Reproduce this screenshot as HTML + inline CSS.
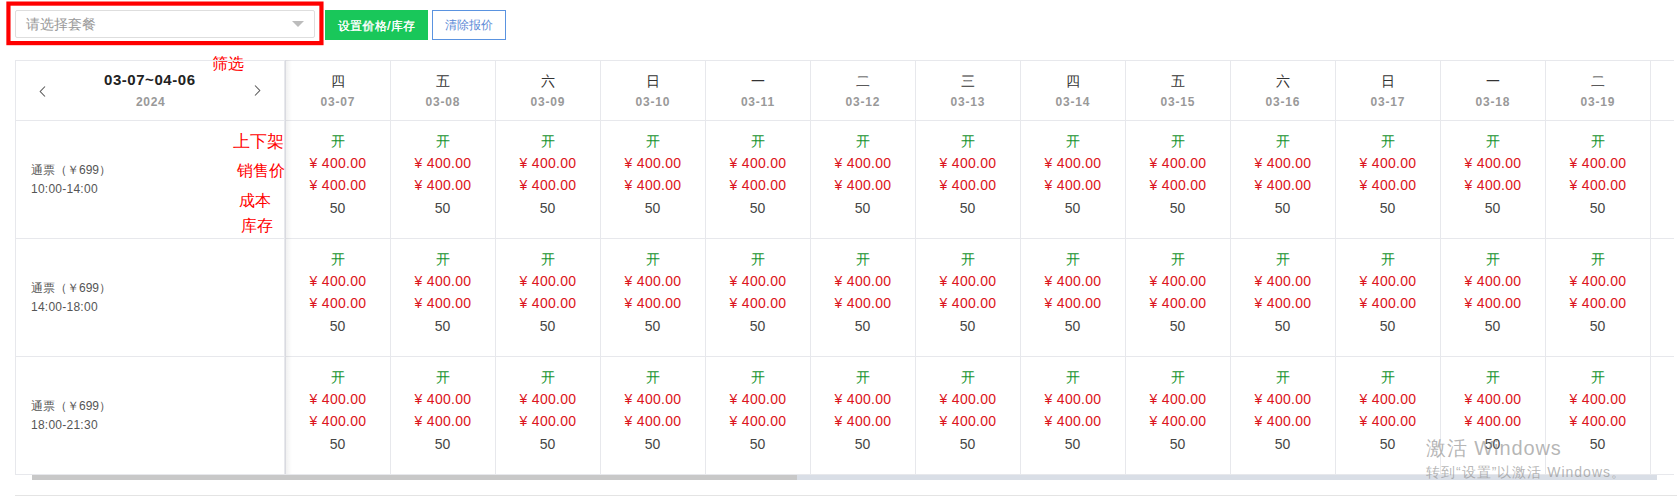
<!DOCTYPE html><html><head><meta charset="utf-8"><style>
*{margin:0;padding:0;box-sizing:border-box}
html,body{width:1677px;height:497px;overflow:hidden;background:#fff;font-family:"Liberation Sans",sans-serif;position:relative}
.a{position:absolute;white-space:nowrap}
.redbox{left:7px;top:1px;width:317px;height:45px;border:4px solid #ff0000}
.sel{left:15px;top:10px;width:300px;height:28px;border:1px solid #dedede;border-radius:2px}
.ph{left:26px;top:15px;font-size:14px;line-height:18px;color:#999}
.tri{left:292px;top:21px;width:0;height:0;border-left:6px solid transparent;border-right:6px solid transparent;border-top:6px solid #bcbcbc}
.btn1{left:325px;top:10px;width:103px;height:30px;background:#19c75a;color:#fff;font-size:12px;line-height:30px;padding-top:1px;text-align:center;font-weight:500;letter-spacing:0.3px;text-shadow:0.3px 0 0 #fff}
.btn2{left:432px;top:10px;width:74px;height:30px;border:1px solid #5a93e0;color:#5b8ad6;font-size:12px;line-height:29px;text-align:center}
.ann{color:#ff0000;font-size:16px;line-height:18px}
.hl{height:1px;background:#e7e8ec}
.vl{width:1px;background:#e7e8ec}
.day{font-size:14px;line-height:16px;color:#333;text-align:center;width:105px}
.dt{font-size:12px;line-height:15px;color:#999;font-weight:bold;text-align:center;width:105px;letter-spacing:0.8px;padding-left:0.8px}
.c{text-align:center;width:105px;font-size:14px;line-height:16px}
.on{color:#15932e}
.pr{color:#dc1420;letter-spacing:0.3px;padding-left:1px}
.st{color:#464646}
.nm{font-size:12px;line-height:14px;color:#555}
.wm1{left:1426px;top:436px;font-size:20px;line-height:24px;letter-spacing:0.9px;color:rgba(150,150,150,0.7)}
.wm2{left:1426px;top:463px;font-size:14px;line-height:18px;letter-spacing:1px;color:rgba(150,150,150,0.7)}
</style></head><body><svg class="a" style="left:0;top:0" width="340" height="50"><rect x="8.45" y="3.6" width="313" height="39.5" fill="none" stroke="#ff0000" stroke-width="4.2"/></svg>
<div class="a sel"></div>
<div class="a ph">请选择套餐</div>
<div class="a tri"></div>
<div class="a btn1">设置价格/库存</div>
<div class="a btn2">清除报价</div>
<div class="a ann" style="left:212px;top:55px">筛选</div>
<div class="a hl" style="left:15px;top:60px;width:1659px"></div>
<div class="a hl" style="left:15px;top:120px;width:1659px"></div>
<div class="a hl" style="left:15px;top:238px;width:1659px"></div>
<div class="a hl" style="left:15px;top:356px;width:1659px"></div>
<div class="a hl" style="left:15px;top:474px;width:1659px"></div>
<div class="a vl" style="left:15px;top:60px;height:415px"></div>
<div class="a vl" style="left:390px;top:60px;height:414px"></div>
<div class="a vl" style="left:495px;top:60px;height:414px"></div>
<div class="a vl" style="left:600px;top:60px;height:414px"></div>
<div class="a vl" style="left:705px;top:60px;height:414px"></div>
<div class="a vl" style="left:810px;top:60px;height:414px"></div>
<div class="a vl" style="left:915px;top:60px;height:414px"></div>
<div class="a vl" style="left:1020px;top:60px;height:414px"></div>
<div class="a vl" style="left:1125px;top:60px;height:414px"></div>
<div class="a vl" style="left:1230px;top:60px;height:414px"></div>
<div class="a vl" style="left:1335px;top:60px;height:414px"></div>
<div class="a vl" style="left:1440px;top:60px;height:414px"></div>
<div class="a vl" style="left:1545px;top:60px;height:414px"></div>
<div class="a vl" style="left:1650px;top:60px;height:414px"></div>
<div class="a" style="left:104px;top:71px;font-size:15px;line-height:18px;font-weight:bold;color:#222;letter-spacing:0.55px">03-07~04-06</div>
<div class="a" style="left:136px;top:95px;font-size:12px;line-height:15px;font-weight:bold;color:#999;letter-spacing:0.7px">2024</div>
<svg class="a" style="left:38px;top:85px" width="9" height="13" viewBox="0 0 9 13"><path d="M7 1.5 L2.2 6.5 L7 11.5" fill="none" stroke="#555" stroke-width="1.05" stroke-linejoin="miter"/></svg>
<svg class="a" style="left:253px;top:84px" width="9" height="13" viewBox="0 0 9 13"><path d="M2 1.5 L6.8 6.5 L2 11.5" fill="none" stroke="#555" stroke-width="1.05" stroke-linejoin="miter"/></svg>
<div class="a day" style="left:285px;top:73px">四</div>
<div class="a dt" style="left:285px;top:95px">03-07</div>
<div class="a day" style="left:390px;top:73px">五</div>
<div class="a dt" style="left:390px;top:95px">03-08</div>
<div class="a day" style="left:495px;top:73px">六</div>
<div class="a dt" style="left:495px;top:95px">03-09</div>
<div class="a day" style="left:600px;top:73px">日</div>
<div class="a dt" style="left:600px;top:95px">03-10</div>
<div class="a day" style="left:705px;top:73px">一</div>
<div class="a dt" style="left:705px;top:95px">03-11</div>
<div class="a day" style="left:810px;top:73px">二</div>
<div class="a dt" style="left:810px;top:95px">03-12</div>
<div class="a day" style="left:915px;top:73px">三</div>
<div class="a dt" style="left:915px;top:95px">03-13</div>
<div class="a day" style="left:1020px;top:73px">四</div>
<div class="a dt" style="left:1020px;top:95px">03-14</div>
<div class="a day" style="left:1125px;top:73px">五</div>
<div class="a dt" style="left:1125px;top:95px">03-15</div>
<div class="a day" style="left:1230px;top:73px">六</div>
<div class="a dt" style="left:1230px;top:95px">03-16</div>
<div class="a day" style="left:1335px;top:73px">日</div>
<div class="a dt" style="left:1335px;top:95px">03-17</div>
<div class="a day" style="left:1440px;top:73px">一</div>
<div class="a dt" style="left:1440px;top:95px">03-18</div>
<div class="a day" style="left:1545px;top:73px">二</div>
<div class="a dt" style="left:1545px;top:95px">03-19</div>
<div class="a nm" style="left:31px;top:163px">通票（￥699）</div>
<div class="a nm" style="left:31px;top:182px;letter-spacing:0.25px">10:00-14:00</div>
<div class="a c on" style="left:285px;top:133px">开</div>
<div class="a c pr" style="left:285px;top:155px">¥ 400.00</div>
<div class="a c pr" style="left:285px;top:177px">¥ 400.00</div>
<div class="a c st" style="left:285px;top:200px">50</div>
<div class="a c on" style="left:390px;top:133px">开</div>
<div class="a c pr" style="left:390px;top:155px">¥ 400.00</div>
<div class="a c pr" style="left:390px;top:177px">¥ 400.00</div>
<div class="a c st" style="left:390px;top:200px">50</div>
<div class="a c on" style="left:495px;top:133px">开</div>
<div class="a c pr" style="left:495px;top:155px">¥ 400.00</div>
<div class="a c pr" style="left:495px;top:177px">¥ 400.00</div>
<div class="a c st" style="left:495px;top:200px">50</div>
<div class="a c on" style="left:600px;top:133px">开</div>
<div class="a c pr" style="left:600px;top:155px">¥ 400.00</div>
<div class="a c pr" style="left:600px;top:177px">¥ 400.00</div>
<div class="a c st" style="left:600px;top:200px">50</div>
<div class="a c on" style="left:705px;top:133px">开</div>
<div class="a c pr" style="left:705px;top:155px">¥ 400.00</div>
<div class="a c pr" style="left:705px;top:177px">¥ 400.00</div>
<div class="a c st" style="left:705px;top:200px">50</div>
<div class="a c on" style="left:810px;top:133px">开</div>
<div class="a c pr" style="left:810px;top:155px">¥ 400.00</div>
<div class="a c pr" style="left:810px;top:177px">¥ 400.00</div>
<div class="a c st" style="left:810px;top:200px">50</div>
<div class="a c on" style="left:915px;top:133px">开</div>
<div class="a c pr" style="left:915px;top:155px">¥ 400.00</div>
<div class="a c pr" style="left:915px;top:177px">¥ 400.00</div>
<div class="a c st" style="left:915px;top:200px">50</div>
<div class="a c on" style="left:1020px;top:133px">开</div>
<div class="a c pr" style="left:1020px;top:155px">¥ 400.00</div>
<div class="a c pr" style="left:1020px;top:177px">¥ 400.00</div>
<div class="a c st" style="left:1020px;top:200px">50</div>
<div class="a c on" style="left:1125px;top:133px">开</div>
<div class="a c pr" style="left:1125px;top:155px">¥ 400.00</div>
<div class="a c pr" style="left:1125px;top:177px">¥ 400.00</div>
<div class="a c st" style="left:1125px;top:200px">50</div>
<div class="a c on" style="left:1230px;top:133px">开</div>
<div class="a c pr" style="left:1230px;top:155px">¥ 400.00</div>
<div class="a c pr" style="left:1230px;top:177px">¥ 400.00</div>
<div class="a c st" style="left:1230px;top:200px">50</div>
<div class="a c on" style="left:1335px;top:133px">开</div>
<div class="a c pr" style="left:1335px;top:155px">¥ 400.00</div>
<div class="a c pr" style="left:1335px;top:177px">¥ 400.00</div>
<div class="a c st" style="left:1335px;top:200px">50</div>
<div class="a c on" style="left:1440px;top:133px">开</div>
<div class="a c pr" style="left:1440px;top:155px">¥ 400.00</div>
<div class="a c pr" style="left:1440px;top:177px">¥ 400.00</div>
<div class="a c st" style="left:1440px;top:200px">50</div>
<div class="a c on" style="left:1545px;top:133px">开</div>
<div class="a c pr" style="left:1545px;top:155px">¥ 400.00</div>
<div class="a c pr" style="left:1545px;top:177px">¥ 400.00</div>
<div class="a c st" style="left:1545px;top:200px">50</div>
<div class="a nm" style="left:31px;top:281px">通票（￥699）</div>
<div class="a nm" style="left:31px;top:300px;letter-spacing:0.25px">14:00-18:00</div>
<div class="a c on" style="left:285px;top:251px">开</div>
<div class="a c pr" style="left:285px;top:273px">¥ 400.00</div>
<div class="a c pr" style="left:285px;top:295px">¥ 400.00</div>
<div class="a c st" style="left:285px;top:318px">50</div>
<div class="a c on" style="left:390px;top:251px">开</div>
<div class="a c pr" style="left:390px;top:273px">¥ 400.00</div>
<div class="a c pr" style="left:390px;top:295px">¥ 400.00</div>
<div class="a c st" style="left:390px;top:318px">50</div>
<div class="a c on" style="left:495px;top:251px">开</div>
<div class="a c pr" style="left:495px;top:273px">¥ 400.00</div>
<div class="a c pr" style="left:495px;top:295px">¥ 400.00</div>
<div class="a c st" style="left:495px;top:318px">50</div>
<div class="a c on" style="left:600px;top:251px">开</div>
<div class="a c pr" style="left:600px;top:273px">¥ 400.00</div>
<div class="a c pr" style="left:600px;top:295px">¥ 400.00</div>
<div class="a c st" style="left:600px;top:318px">50</div>
<div class="a c on" style="left:705px;top:251px">开</div>
<div class="a c pr" style="left:705px;top:273px">¥ 400.00</div>
<div class="a c pr" style="left:705px;top:295px">¥ 400.00</div>
<div class="a c st" style="left:705px;top:318px">50</div>
<div class="a c on" style="left:810px;top:251px">开</div>
<div class="a c pr" style="left:810px;top:273px">¥ 400.00</div>
<div class="a c pr" style="left:810px;top:295px">¥ 400.00</div>
<div class="a c st" style="left:810px;top:318px">50</div>
<div class="a c on" style="left:915px;top:251px">开</div>
<div class="a c pr" style="left:915px;top:273px">¥ 400.00</div>
<div class="a c pr" style="left:915px;top:295px">¥ 400.00</div>
<div class="a c st" style="left:915px;top:318px">50</div>
<div class="a c on" style="left:1020px;top:251px">开</div>
<div class="a c pr" style="left:1020px;top:273px">¥ 400.00</div>
<div class="a c pr" style="left:1020px;top:295px">¥ 400.00</div>
<div class="a c st" style="left:1020px;top:318px">50</div>
<div class="a c on" style="left:1125px;top:251px">开</div>
<div class="a c pr" style="left:1125px;top:273px">¥ 400.00</div>
<div class="a c pr" style="left:1125px;top:295px">¥ 400.00</div>
<div class="a c st" style="left:1125px;top:318px">50</div>
<div class="a c on" style="left:1230px;top:251px">开</div>
<div class="a c pr" style="left:1230px;top:273px">¥ 400.00</div>
<div class="a c pr" style="left:1230px;top:295px">¥ 400.00</div>
<div class="a c st" style="left:1230px;top:318px">50</div>
<div class="a c on" style="left:1335px;top:251px">开</div>
<div class="a c pr" style="left:1335px;top:273px">¥ 400.00</div>
<div class="a c pr" style="left:1335px;top:295px">¥ 400.00</div>
<div class="a c st" style="left:1335px;top:318px">50</div>
<div class="a c on" style="left:1440px;top:251px">开</div>
<div class="a c pr" style="left:1440px;top:273px">¥ 400.00</div>
<div class="a c pr" style="left:1440px;top:295px">¥ 400.00</div>
<div class="a c st" style="left:1440px;top:318px">50</div>
<div class="a c on" style="left:1545px;top:251px">开</div>
<div class="a c pr" style="left:1545px;top:273px">¥ 400.00</div>
<div class="a c pr" style="left:1545px;top:295px">¥ 400.00</div>
<div class="a c st" style="left:1545px;top:318px">50</div>
<div class="a nm" style="left:31px;top:399px">通票（￥699）</div>
<div class="a nm" style="left:31px;top:418px;letter-spacing:0.25px">18:00-21:30</div>
<div class="a c on" style="left:285px;top:369px">开</div>
<div class="a c pr" style="left:285px;top:391px">¥ 400.00</div>
<div class="a c pr" style="left:285px;top:413px">¥ 400.00</div>
<div class="a c st" style="left:285px;top:436px">50</div>
<div class="a c on" style="left:390px;top:369px">开</div>
<div class="a c pr" style="left:390px;top:391px">¥ 400.00</div>
<div class="a c pr" style="left:390px;top:413px">¥ 400.00</div>
<div class="a c st" style="left:390px;top:436px">50</div>
<div class="a c on" style="left:495px;top:369px">开</div>
<div class="a c pr" style="left:495px;top:391px">¥ 400.00</div>
<div class="a c pr" style="left:495px;top:413px">¥ 400.00</div>
<div class="a c st" style="left:495px;top:436px">50</div>
<div class="a c on" style="left:600px;top:369px">开</div>
<div class="a c pr" style="left:600px;top:391px">¥ 400.00</div>
<div class="a c pr" style="left:600px;top:413px">¥ 400.00</div>
<div class="a c st" style="left:600px;top:436px">50</div>
<div class="a c on" style="left:705px;top:369px">开</div>
<div class="a c pr" style="left:705px;top:391px">¥ 400.00</div>
<div class="a c pr" style="left:705px;top:413px">¥ 400.00</div>
<div class="a c st" style="left:705px;top:436px">50</div>
<div class="a c on" style="left:810px;top:369px">开</div>
<div class="a c pr" style="left:810px;top:391px">¥ 400.00</div>
<div class="a c pr" style="left:810px;top:413px">¥ 400.00</div>
<div class="a c st" style="left:810px;top:436px">50</div>
<div class="a c on" style="left:915px;top:369px">开</div>
<div class="a c pr" style="left:915px;top:391px">¥ 400.00</div>
<div class="a c pr" style="left:915px;top:413px">¥ 400.00</div>
<div class="a c st" style="left:915px;top:436px">50</div>
<div class="a c on" style="left:1020px;top:369px">开</div>
<div class="a c pr" style="left:1020px;top:391px">¥ 400.00</div>
<div class="a c pr" style="left:1020px;top:413px">¥ 400.00</div>
<div class="a c st" style="left:1020px;top:436px">50</div>
<div class="a c on" style="left:1125px;top:369px">开</div>
<div class="a c pr" style="left:1125px;top:391px">¥ 400.00</div>
<div class="a c pr" style="left:1125px;top:413px">¥ 400.00</div>
<div class="a c st" style="left:1125px;top:436px">50</div>
<div class="a c on" style="left:1230px;top:369px">开</div>
<div class="a c pr" style="left:1230px;top:391px">¥ 400.00</div>
<div class="a c pr" style="left:1230px;top:413px">¥ 400.00</div>
<div class="a c st" style="left:1230px;top:436px">50</div>
<div class="a c on" style="left:1335px;top:369px">开</div>
<div class="a c pr" style="left:1335px;top:391px">¥ 400.00</div>
<div class="a c pr" style="left:1335px;top:413px">¥ 400.00</div>
<div class="a c st" style="left:1335px;top:436px">50</div>
<div class="a c on" style="left:1440px;top:369px">开</div>
<div class="a c pr" style="left:1440px;top:391px">¥ 400.00</div>
<div class="a c pr" style="left:1440px;top:413px">¥ 400.00</div>
<div class="a c st" style="left:1440px;top:436px">50</div>
<div class="a c on" style="left:1545px;top:369px">开</div>
<div class="a c pr" style="left:1545px;top:391px">¥ 400.00</div>
<div class="a c pr" style="left:1545px;top:413px">¥ 400.00</div>
<div class="a c st" style="left:1545px;top:436px">50</div>
<div class="a" style="left:284px;top:60px;width:1px;height:414px;background:#e7e8ec"></div>
<div class="a" style="left:285px;top:60px;width:1px;height:414px;background:#d9dae0"></div>
<div class="a" style="left:286px;top:60px;width:6px;height:414px;background:linear-gradient(to right,rgba(0,0,0,0.055),rgba(0,0,0,0))"></div>
<div class="a ann" style="left:233px;top:131.5px;font-size:16.5px">上下架</div>
<div class="a ann" style="left:237px;top:162px">销售价</div>
<div class="a ann" style="left:239px;top:192px">成本</div>
<div class="a ann" style="left:241px;top:217px">库存</div>
<div class="a" style="left:32px;top:475px;width:765px;height:5px;background:#c8c8c8"></div>
<div class="a" style="left:797px;top:475px;width:860px;height:5px;background:#d9dee6"></div>
<div class="a hl" style="left:15px;top:495px;width:1662px;background:#e4e4e4"></div>
<div class="a wm1">激活 Windows</div>
<div class="a wm2">转到“设置”以激活 Windows。</div></body></html>
